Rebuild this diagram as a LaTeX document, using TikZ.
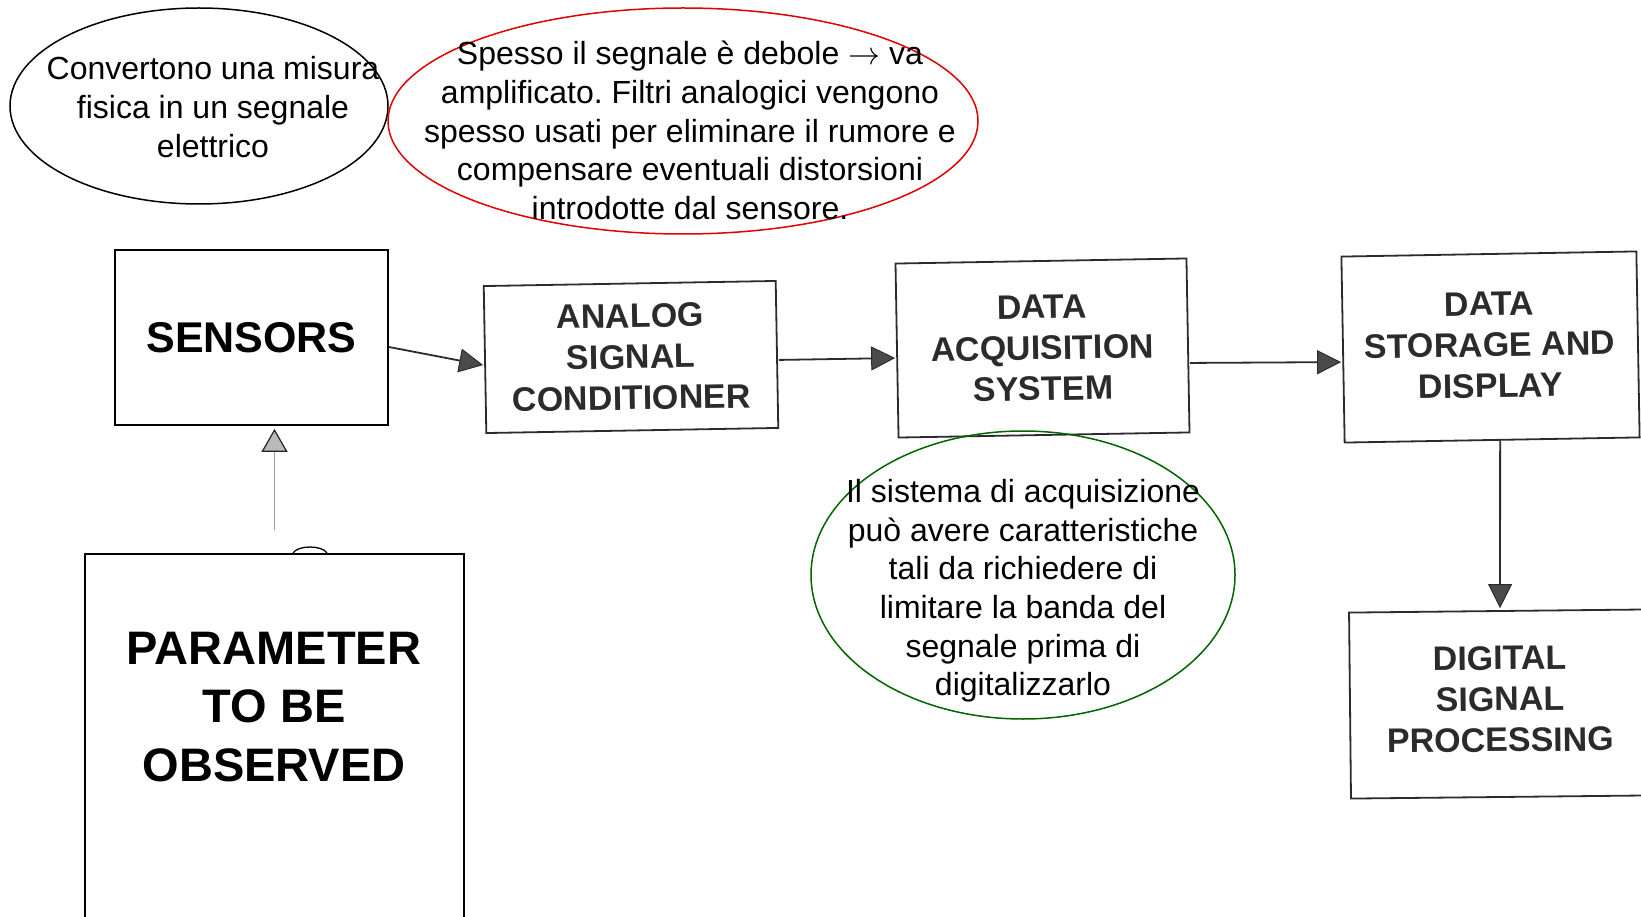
\RequirePackage{fix-cm}
\documentclass[tikz,border=0pt]{standalone}
\usepackage{fontspec}
\setmainfont{Liberation Sans}
\usetikzlibrary{arrows.meta,calc,shapes.geometric}
\frenchspacing

\definecolor{scanink}{HTML}{2B2B2B}
\definecolor{notered}{HTML}{E00000}
\definecolor{notegreen}{HTML}{006400}

\begin{document}
\begin{tikzpicture}[x=1pt,y=-1pt,
  scanbox/.style={draw=scanink, line width=1.8pt, rectangle, inner sep=0pt, text=scanink,
    font=\fontsize{34}{41}\selectfont\bfseries, align=center},
  scantext/.style={inner sep=0pt, text=scanink, font=\fontsize{34}{41}\selectfont\bfseries, align=center},
  plainbox/.style={draw=black, line width=1.8pt, rectangle, inner sep=0pt, align=center},
  note/.style={ellipse, draw, line width=1.5pt, inner sep=0pt},
  notetext/.style={font=\fontsize{32}{38.6}\selectfont, align=center, inner sep=0pt},
  flow/.style={draw=scanink, line width=1.8pt,
    -{Triangle[length=24pt,width=24pt,fill=scanink!85,line width=1pt]}},
  upflow/.style={draw=gray!75, line width=1.6pt,
    -{Triangle[length=23pt,width=26pt,fill=gray!55,color=gray!30!black,line width=1.2pt]}},
]
\useasboundingbox (0,0) rectangle (1641,917);
\clip (0,0) rectangle (1641,917);

% blocks
\node[plainbox, minimum width=273pt, minimum height=175pt,
      font=\fontsize{43}{50}\selectfont\bfseries] (sensors) at (251.5,337.5) {SENSORS};
\node[scanbox, minimum width=292pt, minimum height=147pt, rotate=1] (analog) at (631,357)
     {ANALOG\\SIGNAL\\CONDITIONER};
\node[scanbox, minimum width=291pt, minimum height=174pt, rotate=1] (acq) at (1042.5,348)
     {DATA\\ACQUISITION\\SYSTEM};
\node[scanbox, minimum width=295pt, minimum height=186pt, rotate=1] (storage) at (1490.5,347) {};
\node[scantext, rotate=1] (storagetxt) at (1490,345) {DATA\\STORAGE AND\\DISPLAY};
\node[scanbox, minimum width=300pt, minimum height=186pt, rotate=0.6] (dsp) at (1500,704) {};
\node[scantext, rotate=0.6] (dsptxt) at (1500,699) {DIGITAL\\SIGNAL\\PROCESSING};
\node[plainbox, minimum width=379pt, minimum height=420pt, anchor=north] (param) at (274.5,553) {};
\node[font=\fontsize{47}{58.5}\selectfont\bfseries, align=center, inner sep=0pt] (paramtxt)
     at (274,707) {PARAMETER\\TO BE\\OBSERVED};

% notes
\node[note, minimum width=378pt, minimum height=196pt] (noteA) at (199,106) {};
\node[notetext] (noteAtxt) at (213,107) {Convertono una misura\\fisica in un segnale\\elettrico};
\node[note, draw=notered, minimum width=590pt, minimum height=226pt] (noteB) at (683,121) {};
\node[notetext] (noteBtxt) at (690,130.5) {Spesso il segnale è debole $\rightarrow$ va\\amplificato. Filtri analogici vengono\\spesso usati per eliminare il rumore e\\compensare eventuali distorsioni\\introdotte dal sensore.};
\node[note, draw=notegreen, minimum width=424pt, minimum height=288pt] (noteC) at (1023,575) {};
\node[notetext] (noteCtxt) at (1023,591) {Il sistema di acquisizione\\può avere caratteristiche\\tali da richiedere di\\limitare la banda del\\segnale prima di\\digitalizzarlo};

% connectors
\draw[flow] ($(sensors.east)+(0,9.5)$) -- ($(analog.west)+(-1,5.5)$);
\draw[flow] ($(analog.east)+(1,5.5)$) -- ($(acq.west)+(-1,7.5)$);
\draw[flow] ($(acq.east)+(1,17.5)$) -- ($(storage.west)+(-1,12.5)$);
\draw[flow] ($(storage.south)+(8,0)$) -- ($(dsp.north)+(1,-2)$);
\draw[upflow] ($(param.north)+(0,-23)$) -- ($(param.north |- sensors.south)+(0,3)$);

% small scan mark above the parameter box
\draw[line width=1.3pt] ($(param.north)+(18.5,0)$) .. controls +(5,-8) and +(-5,-8) .. ($(param.north)+(52.5,0)$);
\end{tikzpicture}
\end{document}
